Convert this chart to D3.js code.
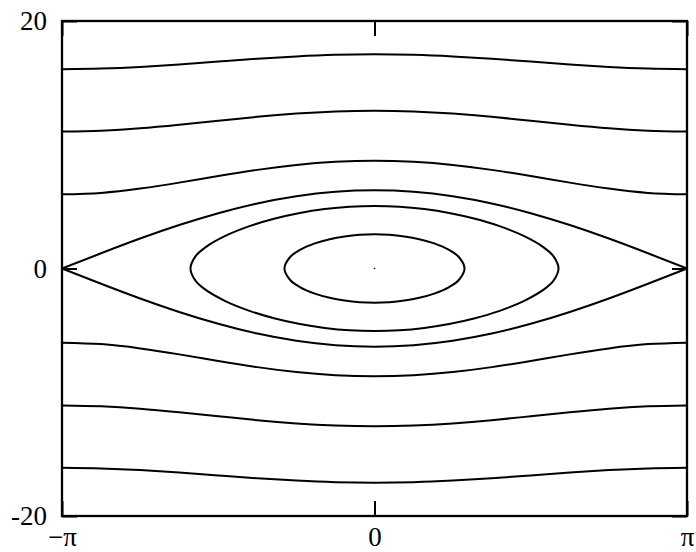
<!DOCTYPE html>
<html>
<head>
<meta charset="utf-8">
<script src="https://cdn.jsdelivr.net/npm/d3@7"></script>
<style>
  body { margin: 0; background: #fff; }
  svg { display: block; }
</style>
</head>
<body>
<div id="chart"></div>
<script>
// sample angles for the rotating orbits (radians)
var angles = [-3.1416, -2.7489, -2.3562, -1.9635, -1.5708, -1.1781, -0.7854, -0.3927, 0,
              0.3927, 0.7854, 1.1781, 1.5708, 1.9635, 2.3562, 2.7489, 3.1416]

// upper half of each rotating orbit (velocity), lower half is its mirror
var orbit1 = [16.11, 16.16, 16.29, 16.49, 16.72, 16.95, 17.14, 17.27, 17.31, 17.27, 17.14, 16.95, 16.72, 16.49, 16.29, 16.16, 16.11]
var orbit2 = [11.07, 11.14, 11.33, 11.62, 11.94, 12.26, 12.52, 12.69, 12.75, 12.69, 12.52, 12.26, 11.94, 11.62, 11.33, 11.14, 11.07]
var orbit3 = [5.99, 6.11, 6.46, 6.94, 7.47, 7.97, 8.37, 8.62, 8.71, 8.62, 8.37, 7.97, 7.47, 6.94, 6.46, 6.11, 5.99]
var separatrix = [0, 1.23, 2.42, 3.51, 4.47, 5.26, 5.84, 6.20, 6.32, 6.20, 5.84, 5.26, 4.47, 3.51, 2.42, 1.23, 0]

// closed (libration) orbits: angles and upper half velocity
var bigAngles = [-1.85, -1.8, -1.7, -1.5, -1.25, -1.0, -0.75, -0.5, -0.25, 0, 0.25, 0.5, 0.75, 1.0, 1.25, 1.5, 1.7, 1.8, 1.85]
var bigVel = [0, 0.98, 1.71, 2.63, 3.44, 4.04, 4.49, 4.80, 4.99, 5.05, 4.99, 4.80, 4.49, 4.04, 3.44, 2.63, 1.71, 0.98, 0]
var smallAngles = [-0.905, -0.85, -0.75, -0.6, -0.45, -0.3, -0.15, 0, 0.15, 0.3, 0.45, 0.6, 0.75, 0.85, 0.905]
var smallVel = [0, 0.91, 1.50, 2.03, 2.37, 2.59, 2.72, 2.76, 2.72, 2.59, 2.37, 2.03, 1.50, 0.91, 0]

// equilibrium point
var fixedPoint = [0, 0]

var xTicks = [-Math.PI, 0, Math.PI]
var xTickLabels = ["\u2212\u03c0", "0", "\u03c0"]
var yTicks = [-20, 0, 20]
var yTickLabels = ["-20", "0", "20"]

var svgWidth = 696
var svgHeight = 552
var margin = {top: 21, right: 9, bottom: 36, left: 62}
var chartWidth = svgWidth - margin.left - margin.right
var chartHeight = svgHeight - margin.top - margin.bottom

var svg = d3.select("#chart")
    .append("svg")
    .attr("width", svgWidth)
    .attr("height", svgHeight)

var chartGroup = svg.append("g")
    .attr("transform", `translate(${margin.left},${margin.top})`)

var xScale = d3.scaleLinear()
    .domain([-Math.PI, Math.PI])
    .range([0, chartWidth])
var yScale = d3.scaleLinear()
    .domain([-20, 20])
    .range([chartHeight, 0])

var font = "'Liberation Serif', 'DejaVu Serif', serif"
var tickLen = 15

// axes with inward ticks on all four sides
var bottomAxis = d3.axisBottom(xScale).tickValues(xTicks)
    .tickFormat((d, i) => xTickLabels[i]).tickSizeInner(-tickLen).tickSizeOuter(0).tickPadding(11)
var topAxis = d3.axisTop(xScale).tickValues(xTicks)
    .tickFormat("").tickSizeInner(-tickLen).tickSizeOuter(0)
var leftAxis = d3.axisLeft(yScale).tickValues(yTicks)
    .tickFormat((d, i) => yTickLabels[i]).tickSizeInner(-tickLen).tickSizeOuter(0).tickPadding(15)
var rightAxis = d3.axisRight(yScale).tickValues(yTicks)
    .tickFormat("").tickSizeInner(-tickLen).tickSizeOuter(0)

var axes = [
    [bottomAxis, `translate(0,${chartHeight})`],
    [topAxis, "translate(0,0)"],
    [leftAxis, "translate(0,0)"],
    [rightAxis, `translate(${chartWidth},0)`]
]
axes.forEach(a => {
    var g = chartGroup.append("g")
        .attr("transform", a[1])
        .call(a[0])
    g.select(".domain").remove()
    g.selectAll(".tick line").attr("stroke", "#000").attr("stroke-width", 2)
    g.selectAll(".tick text")
        .attr("font-family", font)
        .attr("font-size", "27px")
        .attr("fill", "#000")
})

// frame
chartGroup.append("rect")
    .attr("x", 0)
    .attr("y", 0)
    .attr("width", chartWidth)
    .attr("height", chartHeight)
    .attr("fill", "none")
    .attr("stroke", "#000")
    .attr("stroke-width", 2.3)

var openLine = d3.line()
    .x(d => xScale(d[0]))
    .y(d => yScale(d[1]))
    .curve(d3.curveNatural)

var closedLine = d3.line()
    .x(d => xScale(d[0]))
    .y(d => yScale(d[1]))
    .curve(d3.curveCatmullRomClosed.alpha(0.5))

var curves = chartGroup.append("g")
    .attr("fill", "none")
    .attr("stroke", "#000")
    .attr("stroke-width", 2)

// rotating orbits and separatrix, drawn upper and mirrored lower
var openOrbits = [orbit1, orbit2, orbit3, separatrix]
openOrbits.forEach(vals => {
    [1, -1].forEach(sign => {
        curves.append("path")
            .attr("d", openLine(angles.map((a, i) => [a, sign * vals[i]])))
    })
})

// closed orbits
var loops = [[bigAngles, bigVel], [smallAngles, smallVel]]
loops.forEach(l => {
    var upper = l[0].map((a, i) => [a, l[1][i]])
    var lower = l[0].map((a, i) => [a, -l[1][i]]).slice(1, -1).reverse()
    curves.append("path")
        .attr("d", closedLine(upper.concat(lower)))
})

chartGroup.append("circle")
    .attr("cx", xScale(fixedPoint[0]))
    .attr("cy", yScale(fixedPoint[1]))
    .attr("r", 0.8)
    .attr("fill", "#000")
</script>
</body>
</html>
